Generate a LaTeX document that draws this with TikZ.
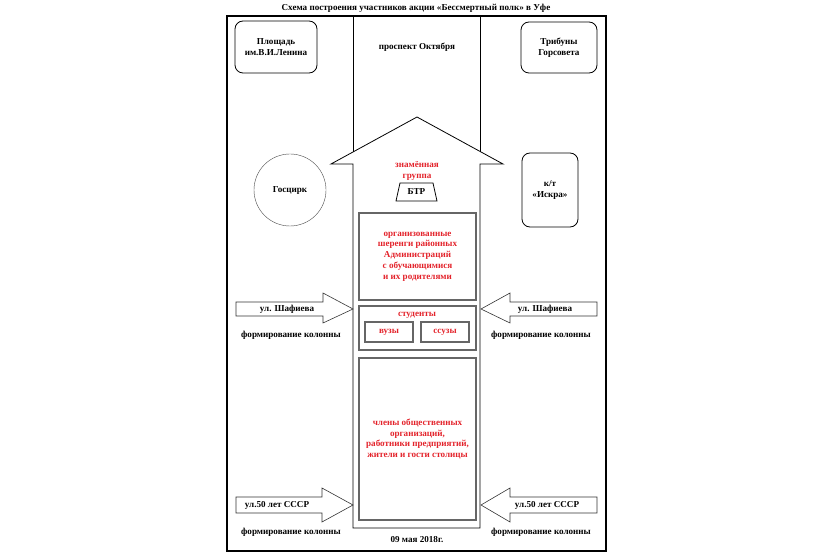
\documentclass[tikz,border=0pt]{standalone}
\usepackage{fontspec}
\setmainfont{Liberation Serif}
\usetikzlibrary{calc,positioning}
\definecolor{SchemeRed}{HTML}{E3232B}
\definecolor{BoxGray}{HTML}{666666}

\begin{document}
\begin{tikzpicture}[x=1pt,y=-1pt,
		txt/.style={font=\fontsize{9.1}{10.8}\selectfont\bfseries, align=center, inner sep=0pt},
		redtxt/.style={txt, text=SchemeRed},
		place/.style={draw, rounded corners=8pt, line width=0.8pt, txt},
		column/.style={draw=BoxGray, line width=1.2pt, redtxt},
		smallcol/.style={draw=BoxGray, line width=1.1pt, redtxt,
			minimum width=48pt, minimum height=20pt},
		sidearrow/.style={draw=black!80, line width=0.6pt}
		]
		\useasboundingbox (0,0) rectangle (833,556);
		% frame and title
		\draw[line width=1.3pt] (227,16) rectangle (606,551);
		\node[txt] (title) at (416,8) {Схема построения участников  акции «Бессмертный полк» в Уфе};
		% street
		\draw[line width=0.8pt] (353,16) -- (353,152);
		\draw[line width=0.8pt] (480,16) -- (480,152);
		\node[txt] (avenue) at (417,47) {проспект Октября};
		\draw[line width=0.8pt] (353,528) -- (353,164) -- (331,164) -- (417,117)
			-- (503,164) -- (480,164) -- (480,528) -- cycle;
		% places
		\node[place, minimum width=82pt, minimum height=52pt] (lenin) at (276,47) {Площадь\\им.В.И.Ленина};
		\node[place, minimum width=76pt, minimum height=51pt] (tribune) at (559,47.5) {Трибуны\\Горсовета};
		\node[draw=black!70, circle, minimum size=72pt, txt] (circus) at (290,190) {Госцирк};
		\node[place, minimum width=56pt, minimum height=74pt] (iskra) at (550,190) {к/т\\«Искра»};
		% column
		\node[redtxt] (flag) at (417,171) {знамённая\\группа};
		\node[txt] (btr) at (416.5,192) {БТР};
		\draw[line width=0.8pt] (400,183) -- (433,183) -- (437,201) -- (396,201) -- cycle;
		\node[column, minimum width=117pt, minimum height=87pt] (admin) at (417.5,256.5)
			{организованные\\шеренги районных\\Администраций\\с обучающимися\\и их родителями};
		\node[column, minimum width=117pt, minimum height=44pt] (students) at (417.5,328) {};
		\node[redtxt] (studlabel) at (417,315) {студенты};
		\node[smallcol] (vuz) at (389,332) {вузы};
		\node[smallcol] (ssuz) at (445,332) {ссузы};
		\node[column, minimum width=117pt, minimum height=162pt] (members) at (417.5,439)
			{члены общественных\\организаций,\\работники  предприятий,\\жители и гости  столицы};
		% side streets
		\draw[sidearrow] (236,302) -- (323,302) -- (323,293) -- (353,309) -- (323,323) -- (323,316) -- (236,316) -- cycle;
		\draw[sidearrow] (597,302) -- (510,302) -- (510,293) -- (481,309) -- (510,323) -- (510,316) -- (597,316) -- cycle;
		\draw[sidearrow] (236,497) -- (322,497) -- (322,488) -- (353,505) -- (322,522) -- (322,513) -- (236,513) -- cycle;
		\draw[sidearrow] (597,497) -- (510,497) -- (510,488) -- (481,505) -- (510,522) -- (510,513) -- (597,513) -- cycle;
		\node[txt] (shafL) at (287,309) {ул. Шафиева};
		\node[txt] (shafR) at (545,309) {ул. Шафиева};
		\node[txt] (sssrL) at (277,505) {ул.50 лет СССР};
		\node[txt] (sssrR) at (547,505) {ул.50 лет СССР};
		\node[txt] (formL1) at (291,335) {формирование колонны};
		\node[txt] (formR1) at (541,335) {формирование колонны};
		\node[txt] (formL2) at (291,532) {формирование колонны};
		\node[txt] (formR2) at (541,532) {формирование колонны};
		\node[txt] (date) at (417,540) {09 мая 2018г.};
	\end{tikzpicture}
\end{document}
